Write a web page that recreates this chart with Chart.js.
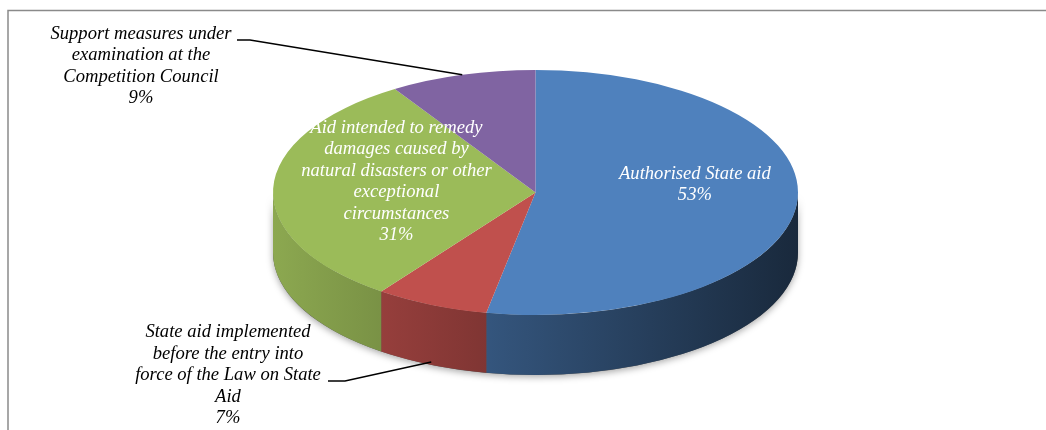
<!DOCTYPE html>
<html>
<head>
<meta charset="utf-8">
<script src="https://cdn.jsdelivr.net/npm/chart.js@4/dist/chart.umd.min.js"></script>
<style>
  html, body { margin: 0; padding: 0; background: #fff; }
  canvas { display: block; }
</style>
</head>
<body>
<canvas id="stateAidChart" width="1046" height="430"></canvas>
<script>
// Category names, already broken into lines as in the original labels
const categories = [
  ['Authorised State aid'],
  ['State aid implemented', 'before the entry into', 'force of the Law on State', 'Aid'],
  ['Aid intended to remedy', 'damages caused by', 'natural disasters or other', 'exceptional', 'circumstances'],
  ['Support measures under', 'examination at the', 'Competition Council']
];
const shares = [53, 7, 31, 9];
const sliceColors = ['#4f81bd', '#c0504d', '#9bbb59', '#8064a2'];

// 3D look: half-height of the top ellipse and thickness of the disc
const RADIUS_X = 262.5;
const RADIUS_Y = 122.5;
const DEPTH = 60;
const LINE_H = 21.5;
const FONT = 'italic 18.6px "Liberation Serif", "Times New Roman", serif';

// where each label goes: inside the slice (k = fraction of radius) or outside with a leader line
const labelPlacement = [
  { inside: true, k: 0.61, dy: -15 },
  { inside: false, at: [228, 375.5], from: [[328, 381], [345, 381]], onSide: true },
  { inside: true, k: 0.53, dy: -9 },
  { inside: false, at: [141, 66], from: [[237, 40], [250, 40]], onSide: false }
];

function shade(hex, f) {
  const n = parseInt(hex.slice(1), 16);
  const r = Math.round(((n >> 16) & 255) * f);
  const g = Math.round(((n >> 8) & 255) * f);
  const b = Math.round((n & 255) * f);
  return `rgb(${r},${g},${b})`;
}

const framePlugin = {
  id: 'frame',
  beforeDraw(chart) {
    const ctx = chart.ctx;
    ctx.save();
    ctx.strokeStyle = '#8a8a8a';
    ctx.lineWidth = 1.5;
    ctx.beginPath();
    ctx.moveTo(8, 430);
    ctx.lineTo(8, 10.5);
    ctx.lineTo(1046, 10.5);
    ctx.stroke();
    ctx.restore();
  }
};

const pie3d = {
  id: 'pie3d',
  beforeDatasetsDraw(chart) {
    const ctx = chart.ctx;
    const arcs = chart.getDatasetMeta(0).data;
    const { x, y, outerRadius } = arcs[0];
    const sy = RADIUS_Y / outerRadius;
    const d = DEPTH / sy;

    ctx.save();
    ctx.translate(x, y);
    ctx.scale(1, sy);
    ctx.translate(-x, -y);

    // soft shadow under the disc
    ctx.save();
    ctx.shadowColor = 'rgba(0,0,0,0.35)';
    ctx.shadowBlur = 7;
    ctx.shadowOffsetY = 2;
    ctx.beginPath();
    ctx.arc(x, y, outerRadius, 0, Math.PI);
    ctx.arc(x, y + d, outerRadius, Math.PI, 0, true);
    ctx.closePath();
    ctx.fillStyle = '#555';
    ctx.fill();
    ctx.restore();

    // side walls of the slices that face the viewer
    arcs.forEach((arc, i) => {
      [0, 2 * Math.PI].forEach(base => {
        const a1 = Math.max(arc.startAngle, base);
        const a2 = Math.min(arc.endAngle, base + Math.PI);
        if (a2 <= a1) return;
        const g = ctx.createLinearGradient(x - outerRadius, 0, x + outerRadius, 0);
        g.addColorStop(0, shade(sliceColors[i], 0.9));
        g.addColorStop(1, shade(sliceColors[i], 0.32));
        ctx.beginPath();
        ctx.arc(x, y, outerRadius, a1, a2);
        ctx.arc(x, y + d, outerRadius, a2, a1, true);
        ctx.closePath();
        ctx.fillStyle = g;
        ctx.fill();
      });
    });
  },
  afterDatasetsDraw(chart) {
    const ctx = chart.ctx;
    ctx.restore();

    const arcs = chart.getDatasetMeta(0).data;
    const sy = RADIUS_Y / arcs[0].outerRadius;

    ctx.save();
    ctx.font = FONT;
    ctx.textAlign = 'center';
    ctx.textBaseline = 'middle';

    arcs.forEach((arc, i) => {
      const p = labelPlacement[i];
      const mid = (arc.startAngle + arc.endAngle) / 2;
      const lines = categories[i].concat([shares[i] + '%']);
      let cx, cy;
      if (p.inside) {
        cx = arc.x + p.k * arc.outerRadius * Math.cos(mid);
        cy = arc.y + p.k * arc.outerRadius * sy * Math.sin(mid) + p.dy;
        ctx.fillStyle = '#ffffff';
      } else {
        cx = p.at[0];
        cy = p.at[1];
        ctx.fillStyle = '#000000';
        const ex = arc.x + arc.outerRadius * Math.cos(mid);
        const ey = arc.y + arc.outerRadius * sy * Math.sin(mid) + (p.onSide ? DEPTH - 3 : 0);
        ctx.strokeStyle = '#000000';
        ctx.lineWidth = 1.5;
        ctx.beginPath();
        ctx.moveTo(p.from[0][0], p.from[0][1]);
        ctx.lineTo(p.from[1][0], p.from[1][1]);
        ctx.lineTo(ex, ey);
        ctx.stroke();
      }
      const top = cy - (lines.length - 1) * LINE_H / 2;
      lines.forEach((t, j) => ctx.fillText(t, cx, top + j * LINE_H));
    });
    ctx.restore();
  }
};

new Chart(document.getElementById('stateAidChart'), {
  type: 'pie',
  data: {
    labels: categories,
    datasets: [{
      data: shares,
      backgroundColor: sliceColors,
      borderWidth: 0,
      radius: RADIUS_X,
      clip: false
    }]
  },
  options: {
    responsive: false,
    devicePixelRatio: 1,
    animation: false,
    events: [],
    layout: { padding: { left: 25, right: 0, top: 0, bottom: 45 } },
    plugins: {
      legend: { display: false },
      tooltip: { enabled: false }
    }
  },
  plugins: [framePlugin, pie3d]
});
</script>
</body>
</html>
